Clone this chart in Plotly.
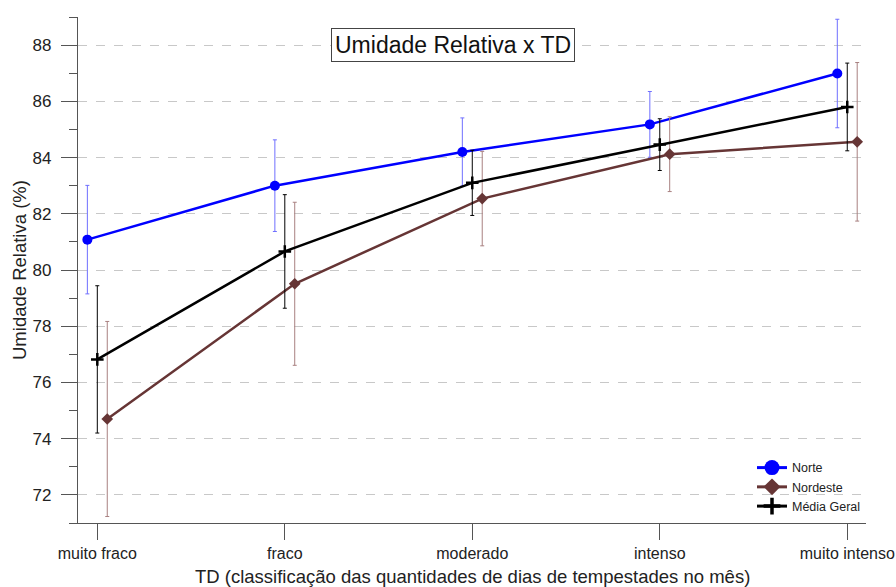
import plotly.graph_objects as go

categories = ["muito fraco", "fraco", "moderado", "intenso", "muito intenso"]
norte = [81.08, 83.0, 84.2, 85.18, 86.99]
norte_err = [1.93, 1.63, 1.21, 1.17, 1.93]
nordeste = [74.7, 79.51, 82.54, 84.12, 84.56]
nordeste_err = [3.47, 2.9, 1.68, 1.33, 2.82]
media = [76.82, 80.66, 83.1, 84.46, 85.8]
media_err = [2.62, 2.02, 1.16, 0.92, 1.56]
y_ticks = [72, 74, 76, 78, 80, 82, 84, 86, 88]

FONT = "Liberation Sans, Arial, sans-serif"
idx = list(range(len(categories)))
off = 0.053

W, H = 896, 587
pl, pr, pt, pb = 78, 30, 17, 64
pw, ph = W - pl - pr, H - pt - pb

fig = go.Figure()

def add(name, vals, errs, dx, color, ecolor, symbol, msize, lsize, mline=None):
    marker = dict(symbol=symbol, size=msize, color=color)
    lmarker = dict(symbol=symbol, size=lsize, color=color)
    if mline:
        marker["line"] = dict(color=color, width=mline)
        lmarker["line"] = dict(color=color, width=mline + 1)
    fig.add_trace(go.Scatter(
        x=[i + dx for i in idx], y=vals, name=name, mode="lines+markers",
        line=dict(color=color, width=2.5), marker=marker, showlegend=False,
        error_y=dict(type="data", array=errs, visible=True, color=ecolor,
                     thickness=1, width=2),
    ))
    # legend-only entry with larger symbol
    fig.add_trace(go.Scatter(
        x=[None], y=[None], name=name, mode="lines+markers",
        line=dict(color=color, width=3), marker=lmarker, showlegend=True,
    ))

add("Norte", norte, norte_err, -off, "#0000ff", "#6f6fff", "circle", 10, 15)
add("Nordeste", nordeste, nordeste_err, off, "#663535", "#a88080", "diamond", 9, 13)
add("Média Geral", media, media_err, 0, "#000000", "#000000", "cross-thin", 9, 12, 2.5)

fig.update_layout(
    width=W, height=H,
    margin=dict(l=pl, r=pr, t=pt, b=pb, autoexpand=False),
    paper_bgcolor="white", plot_bgcolor="white",
    font=dict(family=FONT, color="#222"),
    showlegend=True,
    legend=dict(x=(752 - pl) / pw, y=0.004, xanchor="left", yanchor="bottom",
                font=dict(size=12.5, family=FONT, color="#222"),
                bgcolor="rgba(0,0,0,0)", tracegroupgap=0, itemwidth=30),
    annotations=[
        dict(text="Umidade Relativa x TD", x=(453 - pl) / pw, y=(H - pb - 28) / ph,
             xref="paper", yref="paper",
             showarrow=False, font=dict(size=23, family=FONT, color="#111"),
             bordercolor="#444", borderwidth=1, borderpad=3, bgcolor="white"),
        dict(text="TD (classificação das quantidades de dias de tempestades no mês)",
             x=(472 - pl) / pw, y=0, xref="paper", yref="paper", yshift=-53,
             showarrow=False, yanchor="middle",
             font=dict(size=18.5, family=FONT, color="#222")),
        dict(text="Umidade Relativa (%)", x=0, y=0.5, xref="paper", yref="paper",
             xshift=-59, textangle=-90, showarrow=False, xanchor="center",
             font=dict(size=18.5, family=FONT, color="#222")),
    ],
)

fig.update_xaxes(
    range=[-0.103, 4.1], tickmode="array", tickvals=idx, ticktext=categories,
    automargin=False,
    showgrid=False, zeroline=False, showline=True, linecolor="#555", linewidth=1.2,
    ticks="outside", ticklen=16, tickcolor="#555", tickwidth=1,
    tickfont=dict(size=16, family=FONT, color="#222"),
)
fig.update_yaxes(
    range=[71, 89], tickmode="array", tickvals=y_ticks, automargin=False,
    showgrid=True, gridcolor="#c8c8c8", griddash="dash", gridwidth=1.2,
    zeroline=False, showline=True, linecolor="#555", linewidth=1.2,
    ticks="outside", ticklen=16, tickcolor="#555", tickwidth=1,
    tickfont=dict(size=17, family=FONT, color="#222"),
    ticklabelstandoff=6,
    minor=dict(tickvals=[71, 73, 75, 77, 79, 81, 83, 85, 87, 89], ticks="outside",
               ticklen=8, tickcolor="#555", showgrid=False),
)

fig.write_html("out.html", config={"displayModeBar": False},
               post_script="document.body.style.margin='0';document.body.style.overflow='hidden';")
